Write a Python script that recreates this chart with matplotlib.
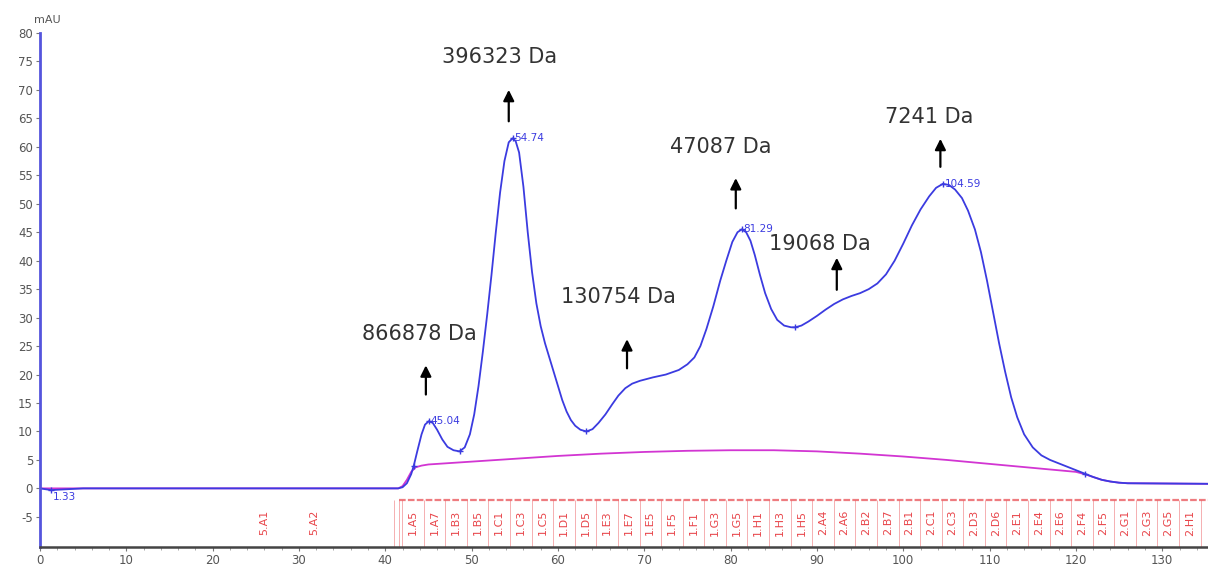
"""
Size-exclusion chromatogram with fraction marks and molecular weight callouts
"""

import numpy as np
import matplotlib.pyplot as plt
from matplotlib.ticker import MultipleLocator

plt.rcParams['axes.unicode_minus'] = False

# UV trace (mAU) against elution volume
uv_x = [0, 1.3, 5, 41.5, 42.0, 42.5, 43.0, 43.3, 43.7, 44.2, 44.6, 45.04, 45.5, 46.0,
        46.6, 47.2, 47.9, 48.6, 49.2, 49.8, 50.3, 50.8, 51.3, 51.8, 52.3, 52.8, 53.3,
        53.8, 54.3, 54.74, 55.1, 55.5, 56.0, 56.5, 57.0, 57.5, 58.0, 58.5, 59.0, 59.5,
        60.0, 60.5, 61.0, 61.5, 62.0, 62.6, 63.3, 64.0, 64.7, 65.5, 66.3, 67.0, 67.8,
        68.6, 69.5, 71, 72.5, 74, 75, 75.8, 76.5, 77.2, 78, 78.8, 79.5, 80.2, 80.8,
        81.29, 81.8, 82.3, 82.8, 83.4, 84.0, 84.7, 85.4, 86.2, 87.0, 87.5, 88.2, 89,
        90, 91, 92, 93, 94, 95, 96, 97, 98, 99, 100, 101, 102, 103, 103.8, 104.59,
        105.3, 106, 106.8, 107.5, 108.3, 109, 109.7, 110.4, 111.1, 111.8, 112.5, 113.2,
        114, 115, 116, 117, 118, 119, 120, 121, 122, 123, 124, 125, 126, 135.5]
uv_y = [0, -0.3, 0, 0, 0.2, 0.9, 2.5, 4, 6.5, 9.5, 11.2, 11.8, 11.5, 10.3,
        8.6, 7.3, 6.7, 6.5, 7.2, 9.5, 13, 18, 24, 30.5, 37.5, 45, 52,
        57.5, 60.8, 61.5, 61.0, 59, 53, 45, 38, 32.5, 28.5, 25.5, 23, 20.5,
        18, 15.5, 13.5, 12, 11, 10.3, 10, 10.4, 11.5, 13, 14.8, 16.3, 17.6,
        18.4, 18.9, 19.5, 20, 20.8, 21.8, 23, 25, 28, 32, 36.5, 40, 43.3, 45,
        45.5, 45, 43.5, 41, 37.5, 34.3, 31.5, 29.6, 28.6, 28.3, 28.3, 28.6, 29.3,
        30.3, 31.4, 32.4, 33.2, 33.8, 34.3, 35, 36, 37.6, 40, 43, 46.2, 49, 51.3, 52.8, 53.5,
        53.3, 52.5, 51, 48.8, 45.5, 41.5, 36.5, 31, 25.5, 20.5, 16, 12.5,
        9.5, 7.2, 5.8, 5, 4.4, 3.8, 3.2, 2.6, 2, 1.5, 1.2, 1.0, 0.9, 0.8]

# baseline trace
base_x = [0, 41.5, 42.0, 42.5, 43.0, 43.5, 44.2, 45, 50, 55, 60, 65, 70, 75, 80, 85,
          90, 95, 100, 105, 110, 115, 120, 121, 122, 123, 124, 125, 126, 135.5]
base_y = [0, 0, 0.4, 1.5, 2.9, 3.7, 4.0, 4.2, 4.7, 5.2, 5.7, 6.1, 6.4, 6.6, 6.7, 6.7,
          6.5, 6.1, 5.6, 5.0, 4.3, 3.6, 2.9, 2.5, 2.0, 1.5, 1.2, 1.0, 0.9, 0.8]

# integration points and peak labels
peak_x = [1.3, 45.04, 54.74, 81.29, 104.59]
peak_y = [-0.3, 11.8, 61.5, 45.5, 53.5]
peak_labels = ['1.33', '45.04', '54.74', '81.29', '104.59']
valley_x = [43.3, 48.6, 63.3, 87.5, 121.0]
valley_y = [4.0, 6.5, 10.0, 28.3, 2.6]

# molecular weight callouts: text position, arrow x, arrow tail, arrow head
mw_labels = ['866878 Da', '396323 Da', '130754 Da', '47087 Da', '19068 Da', '7241 Da']
mw_text_x = [44.0, 53.2, 67.0, 78.9, 90.3, 103.0]
mw_text_y = [27.2, 75.7, 33.7, 60.0, 43.0, 65.2]
mw_arrow_x = [44.7, 54.3, 68.0, 80.6, 92.3, 104.3]
mw_arrow_y0 = [16.0, 64.0, 20.6, 48.7, 34.4, 56.0]
mw_arrow_y1 = [22.1, 70.5, 26.7, 55.0, 41.0, 61.9]

# fraction collector labels
frac_labels = ['1.A5', '1.A7', '1.B3', '1.B5', '1.C1', '1.C3', '1.C5', '1.D1', '1.D5',
               '1.E3', '1.E7', '1.E5', '1.F5', '1.F1', '1.G3', '1.G5', '1.H1', '1.H3',
               '1.H5', '2.A4', '2.A6', '2.B2', '2.B7', '2.B1', '2.C1', '2.C3', '2.D3',
               '2.D6', '2.E1', '2.E4', '2.E6', '2.F4', '2.F5', '2.G1', '2.G3', '2.G5',
               '2.H1']
frac_start = 43.2
frac_step = 2.5
extra_fracs = ['5.A1', '5.A2']
extra_frac_x = [26.0, 31.8]

fig = plt.figure(figsize=(12.08, 5.72), dpi=100)
ax = fig.add_axes([0.0331, 0.0437, 0.9669, 0.8986])

blue = '#3b3be0'
magenta = '#d235d2'
frac_red = '#e8454a'

ax.plot(base_x, base_y, color=magenta, linewidth=1.3)
ax.plot(uv_x, uv_y, color=blue, linewidth=1.3)
ax.plot(peak_x, peak_y, '+', color=blue, markersize=5, markeredgewidth=1)
ax.plot(valley_x, valley_y, '+', color=blue, markersize=5, markeredgewidth=1)
for px, py, lab in zip(peak_x, peak_y, peak_labels):
    dy = -1.2 if lab == '1.33' else 0
    ax.text(px + 0.2, py + dy, lab, color=blue, fontsize=7.5, ha='left', va='center')

for lab, tx, ty, axx, y0, y1 in zip(mw_labels, mw_text_x, mw_text_y, mw_arrow_x,
                                      mw_arrow_y0, mw_arrow_y1):
    ax.text(tx, ty, lab, fontsize=15, color='#333333', ha='center', va='center')
    ax.annotate('', xy=(axx, y1), xytext=(axx, y0),
                arrowprops=dict(arrowstyle='-|>', color='black', lw=1.6,
                                mutation_scale=16))

# fraction boxes
frac_x = frac_start + frac_step * np.arange(len(frac_labels))
edges = np.append(frac_x - frac_step / 2, frac_x[-1] + frac_step / 2)
ax.vlines([41.0, 41.6], -10.3, -2.0, color=frac_red, linewidth=0.6, alpha=0.5)
ax.vlines(edges, -10.3, -2.0, color=frac_red, linewidth=0.6, alpha=0.5)
ax.hlines(-2.1, 41.6, 135.5, color=frac_red, linewidth=1.6, linestyles=(0, (3, 1)), alpha=0.7)
for fx, lab in zip(frac_x, frac_labels):
    ax.text(fx, -6.0, lab, rotation=90, fontsize=8, color=frac_red,
            ha='center', va='center')
for fx, lab in zip(extra_frac_x, extra_fracs):
    ax.text(fx, -6.0, lab, rotation=90, fontsize=8, color=frac_red,
            ha='center', va='center')

ax.set_xlim(0, 135.3)
ax.set_ylim(-10.3, 80)
ax.xaxis.set_major_locator(MultipleLocator(10))
ax.xaxis.set_minor_locator(MultipleLocator(2))
ax.set_yticks(np.arange(-5, 81, 5))
ax.tick_params(axis='both', labelsize=8.5, labelcolor='#555555', color='#777777',
               length=3, pad=2)
ax.tick_params(axis='x', which='minor', length=2, color='#999999')

ax.spines['top'].set_visible(False)
ax.spines['right'].set_visible(False)
ax.spines['left'].set_color('#5555dd')
ax.spines['left'].set_linewidth(2)
ax.spines['bottom'].set_color('#444444')
ax.spines['bottom'].set_linewidth(1.8)

fig.text(0.028, 0.965, 'mAU', fontsize=8, color='#555555', ha='left', va='center')

plt.savefig('out.png', dpi=100)
plt.close()
